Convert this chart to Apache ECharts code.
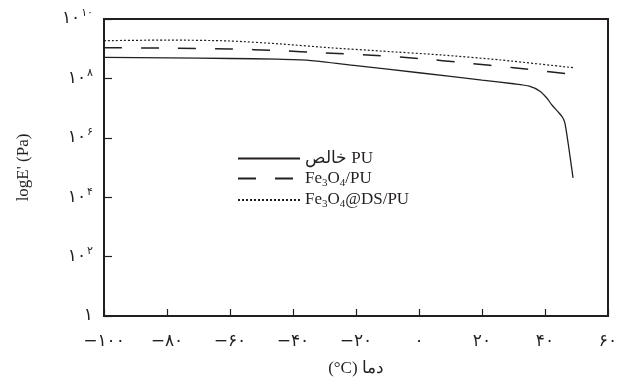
<!DOCTYPE html>
<html>
<head>
<meta charset="utf-8">
<script src="https://cdn.jsdelivr.net/npm/echarts@6/dist/echarts.min.js"></script>
<style>
  html, body { margin: 0; padding: 0; background: #fff; }
  #chart { width: 628px; height: 381px; }
</style>
</head>
<body>
<div id="chart"></div>
<script>
// temperature (°C) and log10 E' (Pa)
const pureTemp = [-100, -80, -60, -45, -35, -20, 0, 20, 30, 35, 38.4, 40.5, 42.1, 44.1, 45.5, 46.3, 47.3, 48.9];
const pureLogE = [8.71, 8.69, 8.67, 8.65, 8.61, 8.43, 8.19, 7.94, 7.82, 7.74, 7.57, 7.35, 7.12, 6.88, 6.70, 6.50, 5.85, 4.65];

const fePuTemp = [-100, -80, -60, -45, -30, -15, 0, 15, 30, 49];
const fePuLogE = [9.03, 9.02, 8.99, 8.94, 8.86, 8.78, 8.67, 8.52, 8.36, 8.13];

const feDsTemp = [-100, -80, -60, -44, -28, -12, 7, 26, 49];
const feDsLogE = [9.27, 9.29, 9.26, 9.16, 9.03, 8.92, 8.79, 8.62, 8.36];

const seriesNames = ['خالص PU', 'Fe3O4/PU', 'Fe3O4@DS/PU'];

const faDigits = '۰۱۲۳۴۵۶۷۸۹';
function toFa(n) {
  return String(n).replace(/[0-9]/g, d => faDigits[+d]).replace('-', '−');
}
function pairs(xs, ys) {
  return xs.map((x, i) => [x, ys[i]]);
}

const ink = '#231f20';
const serif = 'Liberation Serif, DejaVu Serif, serif';
const faFont = 'DejaVu Sans, Liberation Serif, sans-serif';

const chart = echarts.init(document.getElementById('chart'), null, { renderer: 'canvas' });

chart.setOption({
  backgroundColor: '#fff',
  animation: false,
  grid: {
    left: 104, right: 20, top: 19, bottom: 65,
    containLabel: false,
    outerBoundsMode: 'none',
    show: true,
    borderColor: ink,
    borderWidth: 2
  },
  legend: {
    orient: 'vertical',
    left: 232,
    top: 145,
    itemWidth: 62,
    itemHeight: 14,
    itemGap: 3,
    data: seriesNames,
    itemStyle: { opacity: 0 },
    formatter(name) {
      return name.replace(/Fe3O4/, 'Fe{s|3}O{s|4}');
    },
    textStyle: {
      color: ink,
      fontFamily: serif,
      fontSize: 17,
      rich: {
        s: { fontFamily: serif, fontSize: 11, color: ink, padding: [9, 0, 0, 0] }
      }
    }
  },
  xAxis: {
    type: 'value',
    min: -100,
    max: 60,
    interval: 20,
    name: '(°C) دما',
    nameLocation: 'middle',
    nameGap: 44,
    nameTextStyle: { color: ink, fontFamily: serif, fontSize: 17 },
    axisLine: { onZero: false, lineStyle: { color: ink, width: 2 } },
    axisTick: { inside: true, length: 7, lineStyle: { color: ink, width: 1.2 } },
    axisLabel: {
      color: ink,
      fontFamily: faFont,
      fontSize: 17,
      margin: 17,
      formatter: v => toFa(v)
    },
    splitLine: { show: false }
  },
  yAxis: {
    type: 'value',
    min: 0,
    max: 10,
    interval: 2,
    name: "logE' (Pa)",
    nameLocation: 'middle',
    nameGap: 72,
    nameTextStyle: { color: ink, fontFamily: serif, fontSize: 17 },
    axisLine: { onZero: false, lineStyle: { color: ink, width: 2 } },
    axisTick: { inside: true, length: 8, lineStyle: { color: ink, width: 1.2 } },
    axisLabel: {
      color: ink,
      margin: 11,
      formatter(v) {
        if (v === 0) return '{b|۱}';
        return '{b|۱۰}{s|' + toFa(v) + '}';
      },
      rich: {
        b: { fontFamily: faFont, fontSize: 17, color: ink, lineHeight: 22 },
        s: { fontFamily: faFont, fontSize: 11, color: ink, verticalAlign: 'top', padding: [0, 0, 8, 1] }
      }
    },
    splitLine: { show: false }
  },
  series: [
    {
      name: seriesNames[0],
      type: 'line',
      data: pairs(pureTemp, pureLogE),
      symbol: 'none',
      smooth: 0.25,
      lineStyle: { color: ink, width: 1.3, type: 'solid' },
      itemStyle: { color: ink }
    },
    {
      name: seriesNames[1],
      type: 'line',
      data: pairs(fePuTemp, fePuLogE),
      symbol: 'none',
      smooth: 0.25,
      lineStyle: { color: ink, width: 1.5, type: [18, 19] },
      itemStyle: { color: ink }
    },
    {
      name: seriesNames[2],
      type: 'line',
      data: pairs(feDsTemp, feDsLogE),
      symbol: 'none',
      smooth: 0.25,
      lineStyle: { color: ink, width: 1.2, type: [2, 2] },
      itemStyle: { color: ink }
    }
  ]
});
</script>
</body>
</html>
